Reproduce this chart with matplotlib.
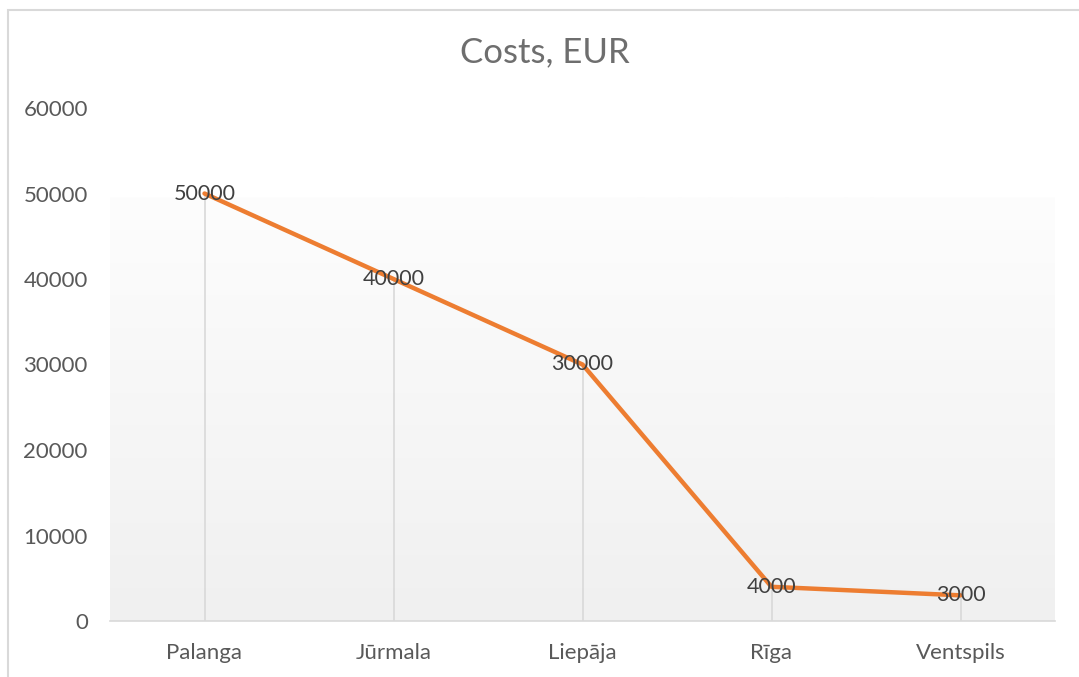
import numpy as np
import matplotlib.pyplot as plt
from matplotlib.patches import Rectangle

plt.rcParams['font.family'] = ['Lato', 'DejaVu Sans']

cities = ["Palanga", "Jūrmala", "Liepāja", "Rīga", "Ventspils"]
costs = [50000, 40000, 30000, 4000, 3000]
yticks = [0, 10000, 20000, 30000, 40000, 50000, 60000]

fig = plt.figure(figsize=(10.79, 6.77), dpi=100)
ax = fig.add_axes([110 / 1079, 1 - 621 / 677, 945 / 1079, 513 / 677])

x = np.arange(len(cities))

# gradient background (white -> light gray)
grad = np.linspace(0, 1, 256).reshape(-1, 1)
ax.imshow(grad, extent=(-0.5, 4.5, 0, 49500), origin='upper', aspect='auto',
          cmap=plt.matplotlib.colors.LinearSegmentedColormap.from_list('g', ['#fdfdfd', '#f0f0f0']),
          zorder=0)

ax.vlines(x, 0, costs, color='#d9d9d9', lw=1.2, zorder=1)
ax.plot(x, costs, color='#ed7d31', lw=3.2, solid_capstyle='round', zorder=3)
for xi, v in zip(x, costs):
    ax.text(xi, v, str(v), ha='center', va='center', fontsize=15.5, color='#404040', zorder=4)

ax.set_xlim(-0.5, 4.5)
ax.set_ylim(0, 60000)
ax.set_xticks(x)
ax.set_xticklabels(cities, fontsize=16, color='#595959')
ax.set_yticks(yticks)
ax.set_yticklabels([str(t) for t in yticks], fontsize=16, color='#595959')
ax.tick_params(axis='both', length=0)
ax.tick_params(axis='y', pad=16)
ax.tick_params(axis='x', pad=16)
for s in ['top', 'right', 'left']:
    ax.spines[s].set_visible(False)
ax.spines['bottom'].set_color('#d9d9d9')
ax.spines['bottom'].set_linewidth(1.2)
ax.set_facecolor('white')

fig.text(545 / 1079, 1 - 52 / 677, "Costs, EUR", ha='center', va='center', fontsize=25, color='#6e6e6e')

fig.patches.append(Rectangle((8 / 1079, -0.1), 1.2, 1 - 10 / 677 + 0.1, transform=fig.transFigure,
                             fill=False, edgecolor='#d9d9d9', lw=1.5))

fig.savefig('out.png', dpi=100)
